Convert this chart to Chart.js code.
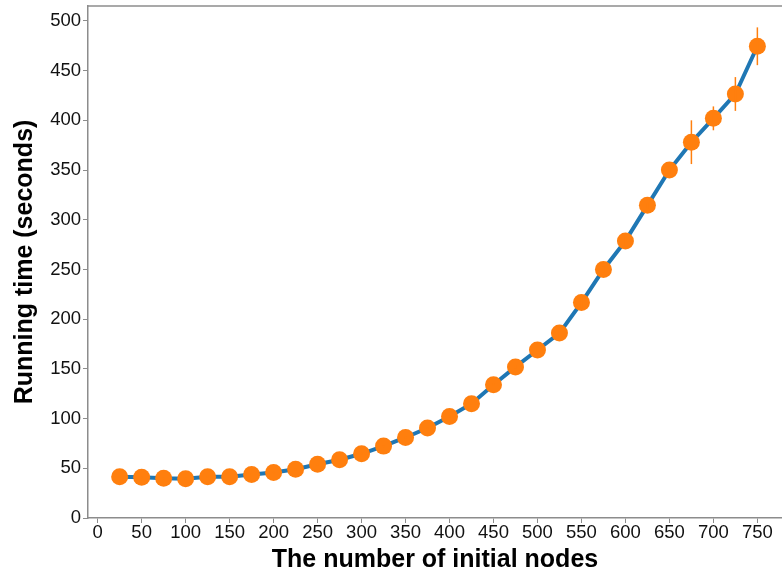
<!DOCTYPE html>
<html>
<head>
<meta charset="utf-8">
<script src="https://cdn.jsdelivr.net/npm/chart.js@4.4.1/dist/chart.umd.min.js"></script>
<style>
    html, body { margin: 0; padding: 0; background: #fff; }
    #wrap { width: 782px; height: 575px; position: relative; }
</style>
</head>
<body>
<div id="wrap"><canvas id="chart"></canvas></div>
<script>
// ===== Data =====
const nodes = [25, 50, 75, 100, 125, 150, 175, 200, 225, 250, 275, 300, 325, 350, 375,
               400, 425, 450, 475, 500, 525, 550, 575, 600, 625, 650, 675, 700, 725, 750];
const runningTimes = [41.5, 41, 40, 39.5, 41.5, 41.5, 43.8, 45.8, 49, 54, 58.6, 64.6, 72.3, 81, 90.5,
                      102, 115, 134, 152, 169, 186, 216.7, 250, 278.7, 314.5, 350, 378, 402, 426.5, 474.5];
const timeErrors = [1, 1, 1, 1, 1, 1, 1, 1, 1, 1, 1, 1, 1, 1, 1,
                    1, 1, 1, 2, 2, 6, 6, 3, 6, 3, 4, 22, 12, 17, 19];
const xTicks = [0, 50, 100, 150, 200, 250, 300, 350, 400, 450, 500, 550, 600, 650, 700, 750];

const AXIS_GREY = '#8c8c8c';
const FONT = "'Liberation Sans', Arial, sans-serif";

// ===== Plugins =====
const errorBars = {
    id: 'errorBars',
    afterDatasetsDraw(chart) {
        const { ctx, scales: { x, y } } = chart;
        ctx.save();
        ctx.strokeStyle = '#ff7f0e';
        ctx.lineWidth = 1.5;
        nodes.forEach((n, i) => {
            const px = x.getPixelForValue(n);
            ctx.beginPath();
            ctx.moveTo(px, y.getPixelForValue(runningTimes[i] - timeErrors[i]));
            ctx.lineTo(px, y.getPixelForValue(runningTimes[i] + timeErrors[i]));
            ctx.stroke();
        });
        ctx.restore();
    }
};

const topBorder = {
    id: 'topBorder',
    afterDraw(chart) {
        const { ctx, chartArea } = chart;
        ctx.save();
        ctx.strokeStyle = AXIS_GREY;
        ctx.lineWidth = 1.5;
        ctx.beginPath();
        ctx.moveTo(chartArea.left, chartArea.top);
        ctx.lineTo(chartArea.right, chartArea.top);
        ctx.stroke();
        ctx.restore();
    }
};

const points = nodes.map((n, i) => ({ x: n, y: runningTimes[i] }));

new Chart(document.getElementById('chart'), {
    type: 'scatter',
    data: {
        datasets: [
            {
                data: points,
                showLine: true,
                borderColor: '#1f77b4',
                borderWidth: 4,
                pointRadius: 0,
                tension: 0,
                order: 2
            },
            {
                data: points,
                showLine: false,
                backgroundColor: '#ff7f0e',
                borderColor: '#ff7f0e',
                pointRadius: 8.5,
                pointBorderWidth: 0,
                order: 1
            }
        ]
    },
    options: {
        responsive: true,
        maintainAspectRatio: false,
        animation: false,
        layout: { autoPadding: false, padding: { top: 6, right: 0, left: 0, bottom: 0 } },
        plugins: { legend: { display: false }, tooltip: { enabled: false } },
        scales: {
            x: {
                type: 'linear',
                min: -11,
                max: 778,
                afterBuildTicks: axis => { axis.ticks = xTicks.map(v => ({ value: v })); },
                afterFit: axis => {
                    axis.height = 57;
                    axis.paddingLeft = 0;
                    axis.paddingRight = 0;
                },
                grid: { drawOnChartArea: false, drawTicks: true, tickLength: 5, color: AXIS_GREY },
                border: { color: AXIS_GREY, width: 1.5 },
                ticks: { color: '#111', font: { family: FONT, size: 18.5 }, padding: -1, maxRotation: 0 },
                title: {
                    display: true,
                    text: 'The number of initial nodes',
                    color: '#000',
                    font: { family: FONT, size: 25, weight: 'bold' },
                    padding: { top: 1, bottom: 0 }
                }
            },
            y: {
                min: 0,
                max: 515,
                ticks: { stepSize: 50, includeBounds: false, color: '#111', font: { family: FONT, size: 18.5 }, padding: 2 },
                afterFit: axis => {
                    axis.width = 88;
                    axis.paddingTop = 0;
                    axis.paddingBottom = 0;
                },
                grid: { drawOnChartArea: false, drawTicks: true, tickLength: 5, color: AXIS_GREY },
                border: { color: AXIS_GREY, width: 1.5 },
                title: {
                    display: true,
                    text: 'Running time (seconds)',
                    color: '#000',
                    font: { family: FONT, size: 25, weight: 'bold' },
                    padding: { top: 10, bottom: 0 }
                }
            }
        }
    },
    plugins: [errorBars, topBorder]
});
</script>
</body>
</html>
